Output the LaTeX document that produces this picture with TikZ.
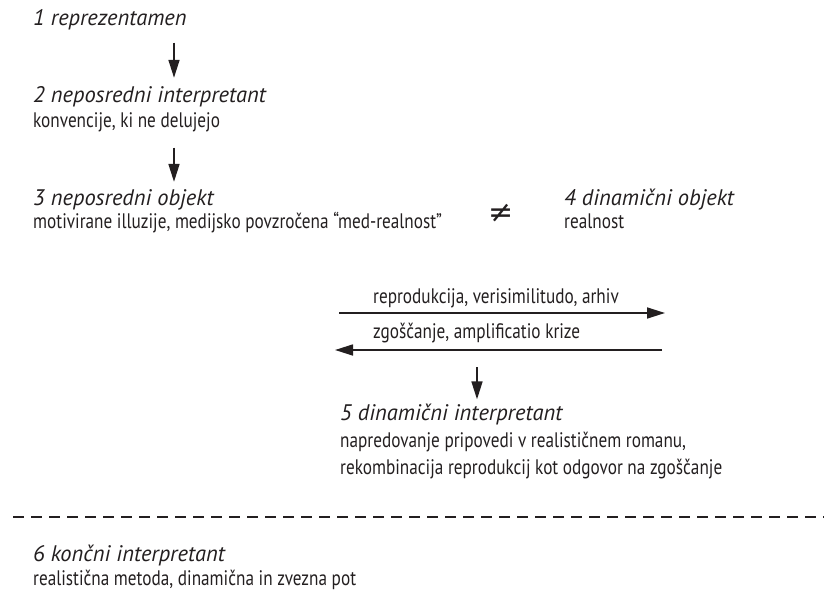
\documentclass[tikz,border=0pt]{standalone}
\usepackage{fontspec}
\setmainfont{PT Sans}
\newfontfamily\condfont{PT Sans}[FakeStretch=0.82]
\newfontfamily\symfont{DejaVu Sans}
\usepackage{tikz}
\usetikzlibrary{positioning, calc, arrows.meta}
\definecolor{txt}{HTML}{231F20}
\tikzset{headtext/.style={anchor=base west, inner sep=0pt, text=txt,
    font=\fontsize{22.5}{24}\selectfont\itshape}}
\tikzset{bodytext/.style={anchor=base west, inner sep=0pt, text=txt,
    font=\fontsize{21}{23}\selectfont\condfont}}
\tikzset{arr/.style={draw=txt, line width=1.7pt, -{Triangle[length=18pt,width=11pt]}}}

\begin{document}
\begin{tikzpicture}[x=1pt, y=-1pt]
      \useasboundingbox (0,0) rectangle (824,596);

      % levels 1 and 2
      \node[headtext] (rep) at (33,26) {1 reprezentamen};
      \node[headtext] (nIntHead) at (33,103) {2 neposredni interpretant};
      \node[bodytext] (nInt) at (33,128) {konvencije, ki ne delujejo};

      % objects
      \node[headtext] (nObjHead) at (33,206) {3 neposredni objekt};
      \node[bodytext] (nObj) at (33,228) {motivirane illuzije, medijsko povzročena “med-realnost”};
      \node[inner sep=0pt, text=txt, font=\fontsize{30}{30}\selectfont\symfont] (neq) at (501,213) {≠};
      \node[headtext] (dObjHead) at (564,206) {4 dinamični objekt};
      \node[bodytext] (dObj) at (564,228) {realnost};

      \coordinate (ax) at (174,0);
      \draw[arr, shorten <=12pt, shorten >=9pt] (rep.south -| ax) -- (nIntHead.north -| ax);
      \draw[arr, shorten <=15pt, shorten >=8pt] (nInt.south -| ax) -- (nObjHead.north -| ax);

      % exchange between the two objects
      \coordinate (repL) at (339,313);
      \coordinate (repR) at (665,313);
      \coordinate (zgoR) at (662,350);
      \coordinate (zgoL) at (335,350);
      \node[bodytext] (repText) at (373,303) {reprodukcija, verisimilitudo, arhiv};
      \node[bodytext] (zgoText) at (373,338) {zgoščanje, amplificatio krize};
      \draw[arr] (repL) -- (repR);
      \draw[arr] (zgoR) -- (zgoL);

      % dynamic interpretant
      \coordinate (dTop) at (477,367);
      \node[headtext] (dIntHead) at (340,420) {5 dinamični interpretant};
      \node[bodytext] (dInt) at (340,447) {napredovanje pripovedi v realističnem romanu,};
      \node[bodytext] (dInt2) at (340,474) {rekombinacija reprodukcij kot odgovor na zgoščanje};
      \draw[arr, shorten >=4pt] (dTop) -- (dIntHead.north -| dTop);

      \coordinate (dashL) at (13,517);
      \coordinate (dashR) at (824,517);
      \draw[txt, line width=1.6pt, dash pattern=on 11pt off 7pt] (dashL) -- (dashR);

      % final interpretant
      \node[headtext] (kIntHead) at (33,561) {6 končni interpretant};
      \node[bodytext] (kInt) at (33,585) {realistična metoda, dinamična in zvezna pot};

    \end{tikzpicture}
\end{document}
